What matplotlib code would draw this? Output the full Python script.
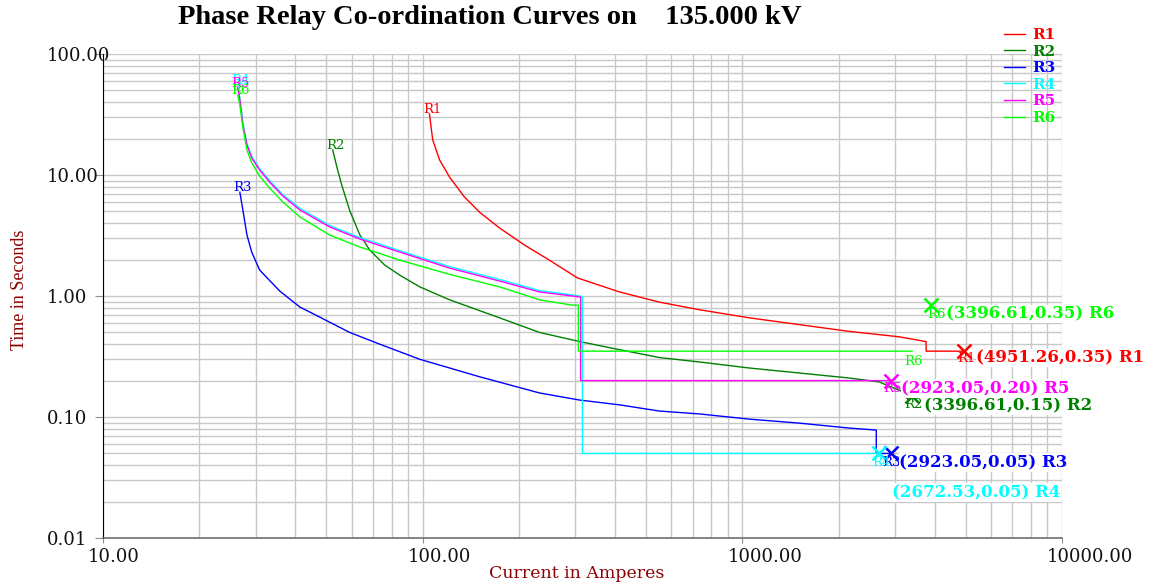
## Import Required Libraries
import matplotlib
matplotlib.use("Agg")
import matplotlib.pyplot as plt
from matplotlib.ticker import FixedLocator, FormatStrFormatter, LogLocator, NullFormatter
from matplotlib.transforms import ScaledTranslation

# Relay names and colours
relays = ["R1", "R2", "R3", "R4", "R5", "R6"]
colors = ["#ff0000", "#008000", "#0000ff", "#00ffff", "#ff00ff", "#00ff00"]

# Curve points: current (A) and operating time (s)
r1_i = [105, 107.5, 113, 121.4, 135, 151, 174, 208, 249, 305, 413, 550, 734, 1052, 1507, 2159, 3095, 3758, 3758, 4951.26]
r1_t = [32, 19.5, 13.3, 9.6, 6.6, 4.9, 3.65, 2.64, 1.98, 1.41, 1.08, 0.89, 0.77, 0.66, 0.58, 0.51, 0.46, 0.42, 0.35, 0.35]

r2_i = [52.3, 54.2, 55.8, 59.1, 63.6, 68.3, 76.1, 84.7, 97.9, 121.4, 174, 232, 310, 413, 550, 734, 1052, 1507, 2159, 2680, 3396.61]
r2_t = [16.1, 11.0, 8.3, 5.1, 3.2, 2.4, 1.8, 1.49, 1.19, 0.93, 0.66, 0.50, 0.42, 0.36, 0.31, 0.285, 0.254, 0.231, 0.21, 0.195, 0.15]

r3_i = [26.8, 27.4, 28.2, 29.2, 30.9, 35.7, 41.3, 47.6, 59.1, 73.4, 97.9, 150.7, 232, 310, 413, 550, 734, 1052, 1507, 2159, 2624, 2624, 2923.05]
r3_t = [7.2, 5.1, 3.2, 2.3, 1.64, 1.10, 0.81, 0.67, 0.50, 0.40, 0.30, 0.215, 0.158, 0.138, 0.126, 0.112, 0.106, 0.096, 0.089, 0.081, 0.078, 0.05, 0.05]

r4_i = [26.4, 26.8, 27.4, 28.2, 29.2, 30.9, 33.2, 36.5, 41.3, 51.2, 63.6, 84.7, 121.4, 174, 232, 294, 316, 316, 2672.53]
r4_t = [55.5, 43.5, 26.8, 18.2, 14.2, 11.3, 9.0, 6.9, 5.3, 3.82, 3.04, 2.37, 1.75, 1.37, 1.11, 1.02, 0.99, 0.05, 0.05]

r5_i = [26.4, 26.8, 27.4, 28.2, 29.2, 30.9, 33.2, 36.5, 41.3, 51.2, 63.6, 84.7, 121.4, 174, 232, 294, 312, 312, 2923.05]
r5_t = [52.4, 41.7, 25.9, 17.7, 13.8, 11.0, 8.75, 6.71, 5.14, 3.72, 2.96, 2.31, 1.70, 1.33, 1.08, 1.0, 0.98, 0.20, 0.20]

r6_i = [26.4, 26.8, 27.4, 28.2, 29.2, 30.9, 33.2, 36.5, 41.3, 51.2, 63.6, 84.7, 121.4, 174, 232, 294, 307, 307, 3396.61]
r6_t = [45.8, 37.9, 24.5, 16.1, 12.6, 9.8, 7.8, 6.0, 4.5, 3.19, 2.54, 1.98, 1.51, 1.19, 0.93, 0.84, 0.84, 0.35, 0.35]

curves_i = [r1_i, r2_i, r3_i, r4_i, r5_i, r6_i]
curves_t = [r1_t, r2_t, r3_t, r4_t, r5_t, r6_t]

# Marked operating points (where the X is drawn) and their labels
mark_i = [4951.26, 3396.61, 2923.05, 2672.53, 2923.05, 3900]
mark_t = [0.35, 0.15, 0.05, 0.05, 0.20, 0.84]
mark_text = ["(4951.26,0.35) R1", "(3396.61,0.15) R2", "(2923.05,0.05) R3",
             "(2672.53,0.05) R4", "(2923.05,0.20) R5", "(3396.61,0.35) R6"]

# Axis ticks
x_ticks = [10, 100, 1000, 10000]
y_ticks = [0.01, 0.1, 1, 10, 100]

# Create Figure
fig = plt.figure(figsize=(11.53, 5.85), dpi=100)
ax = fig.add_axes([103 / 1153, 1 - 538 / 585, 959 / 1153, 484 / 585])
ax.set_xscale("log")
ax.set_yscale("log")
ax.set_xlim(10, 10000)
ax.set_ylim(0.01, 100)

# Grid on major and minor decades
ax.grid(True, which="both", color="#c8c8c8", linewidth=1.0)
ax.set_axisbelow(True)

# Draw the relay curves
for name, col, xi, ti in zip(relays, colors, curves_i, curves_t):
    ax.plot(xi, ti, color=col, linewidth=1.0, label=name, zorder=3)
    # name at the start of each curve
    ax.annotate(name, (xi[0], ti[0]), xytext=(3, -2), textcoords="offset pixels",
                ha="center", va="bottom", color=col, fontsize=9.5,
                family="DejaVu Serif", zorder=4)

# R6 name again at the end of its definite time line
ax.annotate("R6", (r6_i[-1], r6_t[-1]), xytext=(-8, -10), textcoords="offset pixels",
            ha="left", va="center", color=colors[5], fontsize=9.5,
            family="DejaVu Serif", zorder=4)

# Offsets (pixels) of the small name and of the big text from each mark
small_off = [(-7, -7), (-8, -9), (-9, -9), (-7, -9), (-8, -8), (-4, -9)]
big_off = [(12, -7), (12, -10), (8, -9), (13, -39), (10, -8), (15, -9)]

for k in range(len(relays)):
    col = colors[k]
    ax.plot(mark_i[k], mark_t[k], marker="x", markersize=10, markeredgewidth=1.8,
            color=col, linestyle="none", zorder=5)
    ax.annotate(relays[k], (mark_i[k], mark_t[k]), xytext=small_off[k],
                textcoords="offset pixels", ha="left", va="center", color=col,
                fontsize=9.5, family="DejaVu Serif", zorder=6)
    ax.annotate(mark_text[k], (mark_i[k], mark_t[k]), xytext=big_off[k],
                textcoords="offset pixels", ha="left", va="center", color=col,
                fontsize=12, fontweight="bold", family="DejaVu Serif",
                bbox=dict(facecolor="white", edgecolor="none", pad=0.5),
                annotation_clip=False, zorder=7)

# Ticks and tick labels
ax.xaxis.set_major_locator(FixedLocator(x_ticks))
ax.yaxis.set_major_locator(FixedLocator(y_ticks))
ax.xaxis.set_minor_locator(LogLocator(base=10, subs=range(2, 10)))
ax.yaxis.set_minor_locator(LogLocator(base=10, subs=range(2, 10)))
ax.xaxis.set_major_formatter(FormatStrFormatter("%.2f"))
ax.yaxis.set_major_formatter(FormatStrFormatter("%.2f"))
ax.xaxis.set_minor_formatter(NullFormatter())
ax.yaxis.set_minor_formatter(NullFormatter())
ax.tick_params(axis="both", which="minor", length=0)
ax.tick_params(axis="y", which="major", direction="out", length=5.8, color="#909090",
               pad=34.5, labelsize=13, labelcolor="#111111")
ax.tick_params(axis="x", which="major", direction="out", length=3.6, color="#909090",
               pad=3.6, labelsize=13, labelcolor="#111111")
for lab in ax.get_yticklabels():
    lab.set_family("DejaVu Serif")
    lab.set_ha("left")
shift = ScaledTranslation(-15 / 100, 0, fig.dpi_scale_trans)
for lab in ax.get_xticklabels():
    lab.set_family("DejaVu Serif")
    lab.set_ha("left")
    lab.set_transform(lab.get_transform() + shift)

# Spines
ax.spines["top"].set_visible(False)
ax.spines["right"].set_visible(False)
ax.spines["left"].set_color("black")
ax.spines["bottom"].set_color("#707070")
ax.spines["bottom"].set_linewidth(1.2)

# Title and axis labels
fig.text(490 / 1153, 1 - 17 / 585, "Phase Relay Co-ordination Curves on    135.000 kV",
         ha="center", va="center", fontsize=20.5, fontweight="bold", family="Liberation Serif")
fig.text(577 / 1153, 1 - 574 / 585, "Current in Amperes", ha="center", va="center",
         fontsize=12.5, color="#8b0000", family="DejaVu Serif")
fig.text(20 / 1153, 1 - 290 / 585, "Time in Seconds", ha="center", va="center",
         rotation=90, fontsize=13, color="#8b0000", family="Liberation Serif")

# Legend at the top right
leg = ax.legend(loc="upper left", bbox_to_anchor=(1004 / 1153, 1 - 28 / 585),
                bbox_transform=fig.transFigure, frameon=False, labelcolor="linecolor",
                prop=dict(family="DejaVu Serif", weight="bold", size=11),
                handlelength=1.4, handletextpad=0.45, labelspacing=0.17,
                borderpad=0, borderaxespad=0)

# Save Chart
plt.savefig("out.png", dpi=100)
